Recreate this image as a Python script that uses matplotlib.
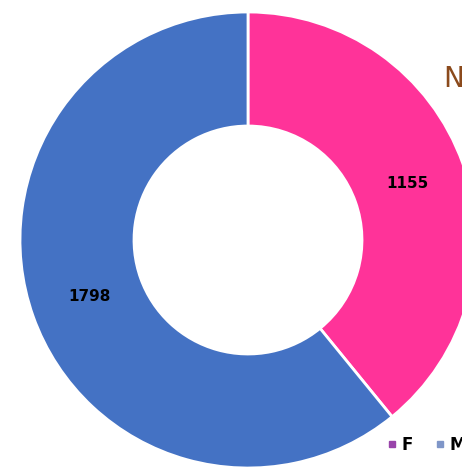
import matplotlib
matplotlib.use("Agg")
import matplotlib.pyplot as plt
from matplotlib.lines import Line2D

# Counts by sex
categories = ["F", "M"]
counts = [1155, 1798]
slice_colors = ["#FF3399", "#4472C4"]
legend_colors = ["#9944AA", "#7F96C8"]
title_text = "Number by sex"

W, H = 462, 469
fig = plt.figure(figsize=(W / 100, H / 100), dpi=100)
ax = fig.add_axes([0, 0, 1, 1])

total = sum(counts)
wedges, _, autotexts = ax.pie(
    counts,
    colors=slice_colors,
    startangle=90,
    counterclock=False,
    radius=1.0,
    autopct=lambda p: f"{round(p * total / 100):d}",
    pctdistance=0.74,
    wedgeprops=dict(width=0.5, edgecolor="white", linewidth=2),
    textprops=dict(fontsize=11, fontweight="bold", color="black"),
)

# place the ring: centre at (248, 240) px, radius 228 px
cx, cy, r = 248, 240, 228
ax.set_aspect("auto")
ax.set_xlim(-cx / r, (W - cx) / r)
ax.set_ylim(-(H - cy) / r, cy / r)
ax.axis("off")

fig.text(444 / W, 1 - 87 / H, title_text, fontsize=20, color="#8B4A1C",
         ha="left", va="baseline")

handles = [Line2D([], [], marker="s", linestyle="none", markersize=5,
                  markerfacecolor=c, markeredgecolor=c) for c in legend_colors]
fig.legend(handles, categories, loc="lower left",
           bbox_to_anchor=(372 / W, 0.0), ncol=2, frameon=False,
           handlelength=0.6, handletextpad=0.25, columnspacing=1.36,
           prop=dict(weight="bold", size=12))

fig.savefig("out.png", dpi=100)
